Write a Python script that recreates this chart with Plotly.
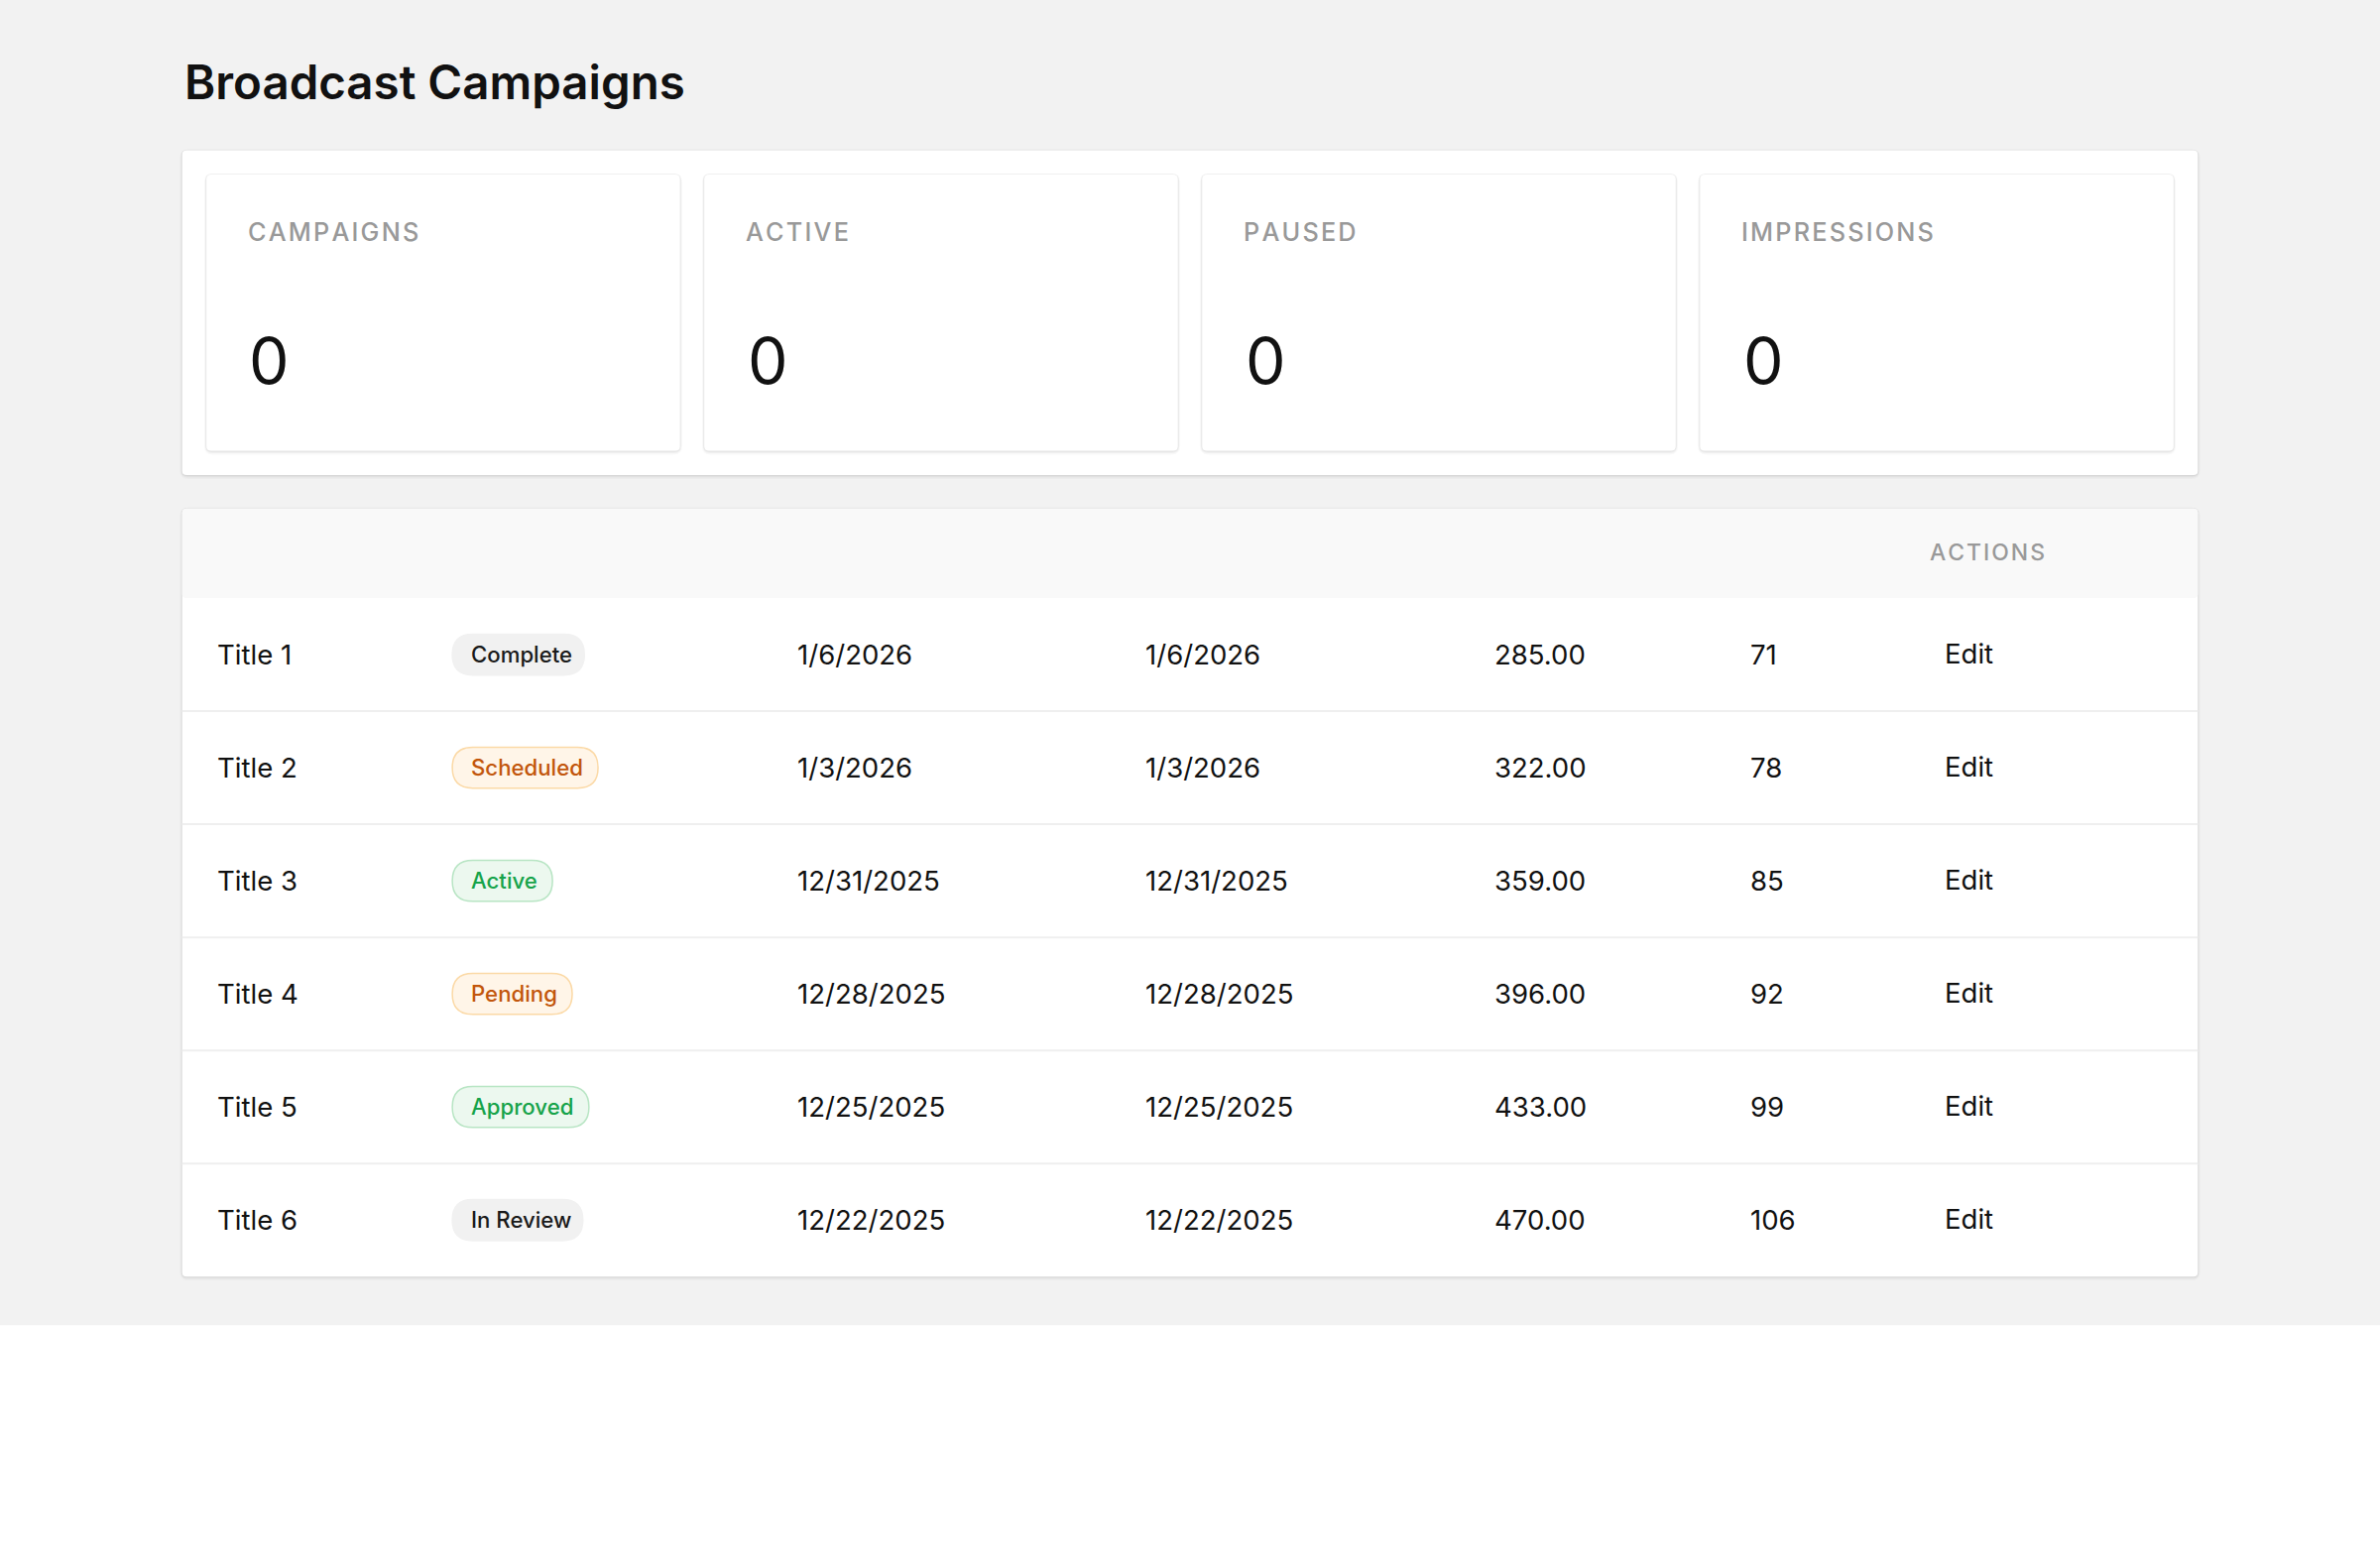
import plotly.graph_objects as go

# ---- data ----
stat_labels = ["CAMPAIGNS", "ACTIVE", "PAUSED", "IMPRESSIONS"]
stat_values = ["0", "0", "0", "0"]

titles = ["Title 1", "Title 2", "Title 3", "Title 4", "Title 5", "Title 6"]
statuses = ["Complete", "Scheduled", "Active", "Pending", "Approved", "In Review"]
start_dates = ["1/6/2026", "1/3/2026", "12/31/2025", "12/28/2025", "12/25/2025", "12/22/2025"]
end_dates = ["1/6/2026", "1/3/2026", "12/31/2025", "12/28/2025", "12/25/2025", "12/22/2025"]
amounts = [285.00, 322.00, 359.00, 396.00, 433.00, 470.00]
counts = [71, 78, 85, 92, 99, 106]
header_labels = ["", "", "", "", "", "", "ACTIONS"]

W, H = 2400, 1576
S = W / 1568.0  # layout sketched in 1568-wide units
FONT = "Inter, 'Noto Sans', sans-serif"

badge_style = {
    "Complete": ("#f1f1f1", "#f1f1f1", "#1a1a1a"),
    "In Review": ("#f1f1f1", "#f1f1f1", "#1a1a1a"),
    "Scheduled": ("#fff5e8", "#fbd9a6", "#c2560c"),
    "Pending": ("#fff5e8", "#fbd9a6", "#c2560c"),
    "Active": ("#ecf8ef", "#b8e5c4", "#16a34a"),
    "Approved": ("#ecf8ef", "#b8e5c4", "#16a34a"),
}
badge_w = {"Complete": 87, "Scheduled": 96, "Active": 66, "Pending": 79,
           "Approved": 90, "In Review": 86}


def spaced(s):
    return "\u200a".join(s)


def rrect(x0, y0, x1, y1, r):
    x0, y0, x1, y1, r = [v * S for v in (x0, y0, x1, y1, r)]
    return (f"M{x0+r},{y0} L{x1-r},{y0} Q{x1},{y0} {x1},{y0+r} L{x1},{y1-r} "
            f"Q{x1},{y1} {x1-r},{y1} L{x0+r},{y1} Q{x0},{y1} {x0},{y1-r} "
            f"L{x0},{y0+r} Q{x0},{y0} {x0+r},{y0} Z")


shapes = []
annotations = []


def box(x0, y0, x1, y1, fill, line=None, r=3, shadow=False):
    if shadow:
        for d, a in ((2.5, 0.025), (1.5, 0.035), (0.7, 0.05)):
            shapes.append(dict(type="path", path=rrect(x0 - d * 0.6, y0 - d * 0.3, x1 + d * 0.6, y1 + d, r + d),
                               fillcolor=f"rgba(0,0,0,{a})", line=dict(width=0), layer="below"))
    shapes.append(dict(type="path", path=rrect(x0, y0, x1, y1, r), fillcolor=fill,
                       line=dict(width=1.5 if line else 0, color=line or fill), layer="below"))


def text(x, y, t, size, color="#111111", weight=None, xanchor="left"):
    annotations.append(dict(x=x * S, y=y * S, text=t, showarrow=False, xanchor=xanchor,
                            yanchor="middle", xref="x", yref="y",
                            font=dict(family=FONT, size=size * S, color=color,
                                      weight=weight)))


# page background
shapes.append(dict(type="rect", x0=0, x1=W, y0=0, y1=873 * S, fillcolor="#f2f2f2",
                   line=dict(width=0), layer="below"))

text(120, 54, "Broadcast Campaigns", 31, weight=600)

# stats panel
box(120, 99, 1448, 313, "#ffffff", shadow=True)
card_x = [136, 464, 792, 1120]
for cx, lab, val in zip(card_x, stat_labels, stat_values):
    box(cx, 115, cx + 312, 297, "#ffffff", shadow=True)
    text(cx + 26, 153, spaced(lab), 16.5, color="#999999", weight=500)
    text(cx + 27, 238, val, 42, color="#111111")

# table panel
box(120, 335, 1448, 841, "#ffffff", shadow=True)
shapes.append(dict(type="path", path=rrect(120, 335, 1448, 394, 3), fillcolor="#f9f9f9",
                   line=dict(width=0), layer="below"))
col_x = [142, 298, 524, 753, 983, 1152, 1270]
for cx, h in zip(col_x, header_labels):
    if h:
        text(cx, 364, spaced(h), 15, color="#999999", weight=500)

row_h = 74.5
y_top = 394
for i in range(len(titles)):
    yc = y_top + row_h * (i + 0.5)
    if i > 0:
        yl = (y_top + row_h * i) * S
        shapes.append(dict(type="line", x0=120 * S, x1=1448 * S, y0=yl, y1=yl,
                           line=dict(color="#efefef", width=2)))
    text(col_x[0], yc, titles[i], 18)
    st = statuses[i]
    bg, bd, fg = badge_style[st]
    box(col_x[1], yc - 13.5, col_x[1] + badge_w[st], yc + 13.5, bg, line=bd, r=13.5)
    text(col_x[1] + 11, yc, st, 14.5, color=fg, weight=500)
    text(col_x[2], yc, start_dates[i], 18)
    text(col_x[3], yc, end_dates[i], 18)
    text(col_x[4], yc, f"{amounts[i]:.2f}", 18)
    text(col_x[5], yc, str(counts[i]), 18)
    text(1280, yc - 1, "Edit", 18)

fig = go.Figure()
fig.update_layout(
    width=W, height=H, margin=dict(l=0, r=0, t=0, b=0),
    paper_bgcolor="#ffffff", plot_bgcolor="#ffffff",
    xaxis=dict(range=[0, W], visible=False, fixedrange=True),
    yaxis=dict(range=[H, 0], visible=False, fixedrange=True),
    shapes=shapes, annotations=annotations, showlegend=False,
)
fig.write_html("out.html", config={"displayModeBar": False},
               post_script="document.body.style.margin='0';document.body.style.overflow='hidden';")
